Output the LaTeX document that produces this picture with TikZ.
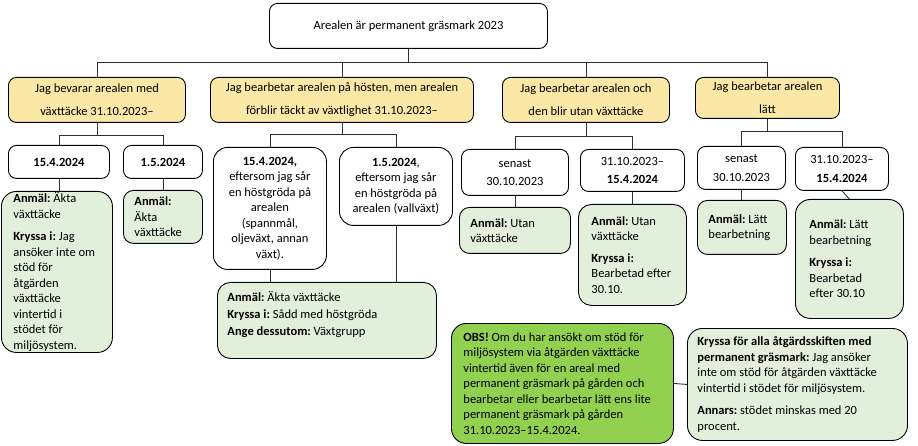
\documentclass[tikz,border=0pt]{standalone}
\usepackage{fontspec}
\setmainfont{Carlito}
\frenchspacing
\usetikzlibrary{calc}
\definecolor{yelc}{HTML}{FBE8A6}
\definecolor{grnc}{HTML}{E2EFDA}
\definecolor{obsc}{HTML}{92D050}
\definecolor{linec}{HTML}{303030}
\newcommand\fsz{\fontsize{12.5}{15.5}\selectfont\frenchspacing}
\tikzset{
  box/.style={draw=black, line width=0.9pt, rounded corners=8pt, anchor=north west, inner sep=0pt, align=center, font=\fsz},
  wbox/.style={box, fill=white},
  ybox/.style={box, fill=yelc},
  gbox/.style={draw=black, line width=0.9pt, rounded corners=13pt, anchor=north west, inner xsep=11pt, inner ysep=0pt, align=flush left, fill=grnc, font=\fsz},
  conn/.style={draw=linec, line width=0.9pt}
}
\begin{document}
\begin{tikzpicture}[x=1pt,y=-1pt]
\useasboundingbox (0,0) rectangle (918,446);
% top
\node[wbox, minimum width=278pt, minimum height=45pt] (top) at (269,3) {Arealen är permanent gräsmark 2023};
% level 1
\node[ybox, minimum width=177pt, minimum height=45pt] (y1) at (8,77) {Jag bevarar arealen med\\[7.5pt]växttäcke 31.10.2023–};
\node[ybox, minimum width=263pt, minimum height=45pt] (y2) at (210,77) {Jag bearbetar arealen på hösten, men arealen\\[7.5pt]förblir täckt av växtlighet 31.10.2023–};
\node[ybox, minimum width=167pt, minimum height=45pt] (y3) at (502,77) {Jag bearbetar arealen och\\[7.5pt]den blir utan växttäcke};
\node[ybox, minimum width=144pt, minimum height=41pt] (y4) at (695,77) {Jag bearbetar arealen\\[7.5pt]lätt};
% level 2
\node[wbox, minimum width=101pt, minimum height=33pt] (a1) at (8,145) {\textbf{15.4.2024}};
\node[wbox, minimum width=79pt, minimum height=33pt] (a2) at (123,145) {\textbf{1.5.2024}};
\node[wbox, rounded corners=14pt, minimum width=113pt, minimum height=122pt] (b1) at (213,147) {\textbf{15.4.2024,}\\eftersom jag sår\\en höstgröda på\\arealen\\(spannmål,\\oljeväxt, annan\\växt).};
\node[wbox, rounded corners=14pt, minimum width=113pt, minimum height=78pt] (b2) at (339,147) {\textbf{1.5.2024},\\eftersom jag sår\\en höstgröda på\\arealen (vallväxt)};
\node[wbox, minimum width=107pt, minimum height=46pt] (c1) at (461,149) {senast\\[3pt]30.10.2023};
\node[wbox, minimum width=104pt, minimum height=42pt] (c2) at (580,149) {31.10.2023–\\[3pt]\textbf{15.4.2024}};
\node[wbox, minimum width=88pt, minimum height=43pt] (d1) at (697,146) {senast\\[3pt]30.10.2023};
\node[wbox, minimum width=93pt, minimum height=43pt] (d2) at (795,147) {31.10.2023–\\[3pt]\textbf{15.4.2024}};
% green boxes
\node[gbox, rounded corners=15pt, inner xsep=12pt, text width=87pt, minimum height=161pt] (g1) at (1,191) {\textbf{Anmäl:} Äkta\\växttäcke\\[7pt]\textbf{Kryssa i:} Jag\\ansöker inte om\\stöd för\\åtgärden\\växttäcke\\vintertid i\\stödet för\\miljösystem.};
\node[gbox, rounded corners=10pt, inner xsep=11pt, text width=57pt, minimum height=53pt] (g2) at (123,190) {\textbf{Anmäl:}\\Äkta\\växttäcke};
\node[gbox, inner xsep=10pt] (g3) at (217,282) {\parbox[c][76pt][t]{199pt}{\raggedright\vspace*{9pt}\textbf{Anmäl:} Äkta växttäcke\\[1.5pt]\textbf{Kryssa i:} Sådd med höstgröda\\[1.5pt]\textbf{Ange dessutom:} Växtgrupp}};
\node[gbox, rounded corners=10pt, inner xsep=11pt, text width=89pt, minimum height=46pt] (g4) at (459,207) {\textbf{Anmäl:} Utan\\växttäcke};
\node[gbox, inner xsep=13pt, text width=82pt, minimum height=101pt] (g5) at (578,204) {\textbf{Anmäl:} Utan\\växttäcke\\[6pt]\textbf{Kryssa i:}\\Bearbetad efter\\30.10.};
\node[gbox, rounded corners=10pt, inner xsep=11pt, text width=67pt, minimum height=54pt] (g6) at (697,200) {\textbf{Anmäl:} Lätt\\bearbetning};
\node[gbox, rounded corners=15pt, inner xsep=14pt, text width=80pt, minimum height=119pt] (g7) at (795,199) {\textbf{Anmäl:} Lätt\\bearbetning\\[7pt]\textbf{Kryssa i:}\\Bearbetad\\efter 30.10};
\node[gbox, fill=obsc, rounded corners=15pt, inner xsep=12pt, text width=198pt, minimum height=120pt] (obs) at (451,323) {\textbf{OBS!} Om du har ansökt om stöd för\\miljösystem via åtgärden växttäcke\\vintertid även för en areal med\\permanent gräsmark på gården och\\bearbetar eller bearbetar lätt ens lite\\permanent gräsmark på gården\\31.10.2023–15.4.2024.};
\node[gbox, rounded corners=15pt, inner xsep=10pt, text width=200pt, minimum height=112pt] (rt) at (687,328) {\textbf{Kryssa för alla åtgärdsskiften med}\\\textbf{permanent gräsmark:} Jag ansöker\\inte om stöd för åtgärden växttäcke\\vintertid i stödet för miljösystem.\\[7pt]\textbf{Annars:} stödet minskas med 20\\procent.};
% bus coordinates
\coordinate (bus) at (0,62);
\coordinate (bus1) at (0,135);
\coordinate (bus2) at (0,134);
\coordinate (bus3) at (0,136);
\coordinate (bus4) at (0,131);
% connectors
\draw[conn] (top.south) -- (top.south |- bus);
\draw[conn] (y1.north) -- (y1.north |- bus) -- (y4.north |- bus) -- (y4.north);
\draw[conn] (y2.north) -- (y2.north |- bus);
\draw[conn] (y3.north) -- (y3.north |- bus);
\draw[conn] (y1.south) -- (y1.south |- bus1);
\draw[conn] (a1.north) -- (a1.north |- bus1) -- (a2.north |- bus1) -- (a2.north);
\draw[conn] (y2.south) -- (y2.south |- bus2);
\draw[conn] (b1.north) -- (b1.north |- bus2) -- (b2.north |- bus2) -- (b2.north);
\draw[conn] (y3.south) -- (y3.south |- bus3);
\draw[conn] (c1.north) -- (c1.north |- bus3) -- (c2.north |- bus3) -- (c2.north);
\draw[conn] (y4.south) -- (y4.south |- bus4);
\draw[conn] (d1.north) -- (d1.north |- bus4) -- (d2.north |- bus4) -- (d2.north);
\draw[conn] (a1.south) -- (a1.south |- g1.north);
\draw[conn] (a2.south) -- (a2.south |- g2.north);
\draw[conn] (b1.south) -- (b1.south |- g3.north);
\draw[conn] (b2.south) -- (b2.south |- g3.north);
\draw[conn] (c1.south) -- (c1.south |- g4.north);
\draw[conn] (c2.south) -- (c2.south |- g5.north);
\draw[conn] (d1.south) -- (d1.south |- g6.north);
\draw[conn] (d2.south) -- (g7.north);
\draw[conn] (obs.east) -- (rt.west);
\end{tikzpicture}
\end{document}
